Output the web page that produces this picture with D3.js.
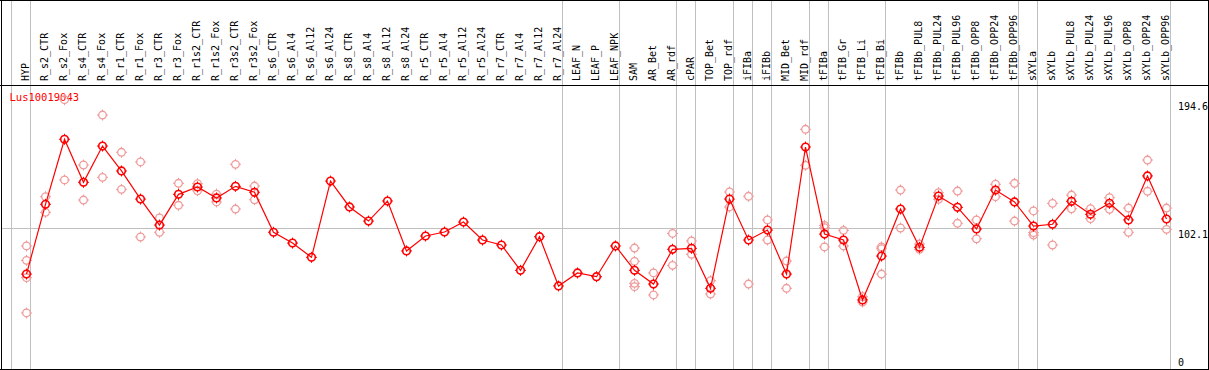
<!DOCTYPE html>
<html>
<head>
<meta charset="utf-8">
<script src="https://cdn.jsdelivr.net/npm/d3@7"></script>
<style>
  html, body { margin: 0; padding: 0; background: #fff; }
  svg { display: block; }
  text { font-family: "DejaVu Sans Mono", "Liberation Mono", monospace; }
</style>
</head>
<body>
<svg id="chart" width="1209" height="370"></svg>
<script>
const title = "Lus10019043";
const categories = ["HYP","R_s2_CTR","R_s2_Fox","R_s4_CTR","R_s4_Fox","R_r1_CTR","R_r1_Fox","R_r3_CTR","R_r3_Fox","R_r1s2_CTR","R_r1s2_Fox","R_r3s2_CTR","R_r3s2_Fox","R_s6_CTR","R_s6_Al4","R_s6_Al12","R_s6_Al24","R_s8_CTR","R_s8_Al4","R_s8_Al12","R_s8_Al24","R_r5_CTR","R_r5_Al4","R_r5_Al12","R_r5_Al24","R_r7_CTR","R_r7_Al4","R_r7_Al12","R_r7_Al24","LEAF_N","LEAF_P","LEAF_NPK","SAM","AR_Bet","AR_rdf","cPAR","TOP_Bet","TOP_rdf","iFIBa","iFIBb","MID_Bet","MID_rdf","tFIBa","tFIB_Gr","tFIB_Li","tFIB_Bi","tFIBb","tFIBb_PUL8","tFIBb_PUL24","tFIBb_PUL96","tFIBb_OPP8","tFIBb_OPP24","tFIBb_OPP96","sXYLa","sXYLb","sXYLb_PUL8","sXYLb_PUL24","sXYLb_PUL96","sXYLb_OPP8","sXYLb_OPP24","sXYLb_OPP96"];
const meanValues = [68.6,119.0,166.0,134.9,161.1,143.1,122.8,104.0,126.2,131.5,123.6,132.0,127.7,98.8,91.0,80.7,135.8,117.1,106.9,121.4,85.3,96.1,99.0,106.2,93.2,89.6,71.3,95.6,60.0,69.4,66.7,88.9,71.3,61.4,86.5,87.2,58.3,122.8,93.2,100.4,68.6,160.4,97.5,93.2,49.9,81.6,115.6,87.9,125.0,116.8,101.2,129.3,120.7,103.3,104.6,121.2,111.8,119.7,107.7,139.5,108.4];
const replicateValues = [
  [88.9,78.5,66.0,40.5],[124.5,113.2],[194.6,136.6],[147.4,122.1],[183.5,138.5],
  [156.6,129.8],[149.6,95.4],[109.1,98.8],[134.2,118.3],[133.9,128.8],
  [126.4,120.7],[147.9,115.6],[132.2,122.3],
  [],[],[],[],[],[],[],[],[],[],[],[],[],[],[],[],[],[],[],
  [87.4,77.8,61.9,59.5],[69.4,53.5],[98.0,74.9],[92.5,82.9],[63.8,54.2],
  [127.9,117.1],[124.8,61.4],[107.7,93.2],[78.0,58.3],[173.2,147.2],
  [103.8,102.1,88.2],[100.2,88.9],[52.2,48.4],[88.2,86.9,68.6],[129.3,101.9],
  [90.3,86.5],[127.4,122.6],[128.6,105.3],[107.7,94.1],[133.5,124.5],
  [134.2,106.9],[114.2,98.5,96.8],[119.7,89.6],[125.7,115.8],[115.8,108.6],
  [123.8,115.4],[116.3,98.8],[151.0,128.4],[116.3,100.9]
];
const groupBreaks = [-1,0,28,31,34,35,37,38,39,41,42,45,52,53,60];
const yTicks = [0,102.1,194.6];

const W = 1209, H = 370;
const svg = d3.select("#chart");
const headerY = 85, bottomY = 369, rightX = 1208;

const x = d3.scalePoint().domain(categories).range([26.5, 26.5 + 19 * (categories.length - 1)]);
const step = x.step();
const y = d3.scaleLinear().domain([0, 194.6]).range([bottomY, 99.7]);
const gridRight = x(categories[categories.length - 1]) + 4;

// separators
const sepX = i => x(categories[0]) + step * i + 4;
svg.append("g").selectAll("line").data(groupBreaks).join("line")
  .attr("x1", d => sepX(d)).attr("x2", d => sepX(d))
  .attr("y1", 0).attr("y2", bottomY)
  .attr("stroke", "#c0c0c0").attr("stroke-width", 1).attr("shape-rendering", "crispEdges");

// horizontal grid at middle tick
svg.append("line").attr("x1", 1).attr("x2", gridRight)
  .attr("y1", Math.round(y(102.1)) + 0.5).attr("y2", Math.round(y(102.1)) + 0.5)
  .attr("stroke", "#c0c0c0").attr("stroke-width", 1);

// borders
const border = svg.append("g").attr("stroke", "#000").attr("stroke-width", 1).attr("shape-rendering", "crispEdges");
border.append("line").attr("x1", 0).attr("x2", W).attr("y1", 0.5).attr("y2", 0.5);
border.append("line").attr("x1", 0).attr("x2", W).attr("y1", headerY + 0.5).attr("y2", headerY + 0.5);
border.append("line").attr("x1", 0).attr("x2", W).attr("y1", bottomY + 0.5).attr("y2", bottomY + 0.5);
border.append("line").attr("x1", 1.5).attr("x2", 1.5).attr("y1", 0).attr("y2", H);
border.append("line").attr("x1", rightX + 0.5).attr("x2", rightX + 0.5).attr("y1", 0).attr("y2", H);

// category labels
svg.append("g").selectAll("text").data(categories).join("text")
  .attr("transform", d => `translate(${x(d) + 2},${headerY - 4}) rotate(-90)`)
  .attr("font-size", "10px").attr("fill", "#000").text(d => d);

// y labels
svg.append("g").selectAll("text").data(yTicks).join("text")
  .attr("x", 1178)
  .attr("y", d => d === 0 ? y(d) - 3 : y(d) + 10)
  .attr("font-size", "10px").attr("fill", "#000").text(d => d);

// title
svg.append("text").attr("x", 9.5).attr("y", 101).attr("font-size", "10.5px").attr("fill", "#ff0000").text(title);

function marker(g, cx, cy, color, sw) {
  g.append("circle").attr("cx", cx).attr("cy", cy).attr("r", 3.8)
    .attr("fill", "none").attr("stroke", color).attr("stroke-width", sw);
  const t = [[0,-3.5,0,-5.5],[0,3.5,0,5.5],[-3.5,0,-5.5,0],[3.5,0,5.5,0]];
  t.forEach(s => g.append("line").attr("x1", cx + s[0]).attr("y1", cy + s[1]).attr("x2", cx + s[2]).attr("y2", cy + s[3])
    .attr("stroke", color).attr("stroke-width", 1));
}

// replicates
const repG = svg.append("g");
replicateValues.forEach((reps, i) => {
  reps.forEach(v => marker(repG, x(categories[i]), y(v), "#f09a9a", 1.3));
});

// mean line
const line = d3.line().x((d, i) => x(categories[i])).y(d => y(d));
svg.append("path").datum(meanValues).attr("d", line)
  .attr("fill", "none").attr("stroke", "#ff0000").attr("stroke-width", 1.2);

const meanG = svg.append("g");
meanValues.forEach((v, i) => marker(meanG, x(categories[i]), y(v), "#ff0000", 1.6));
</script>
</body>
</html>
